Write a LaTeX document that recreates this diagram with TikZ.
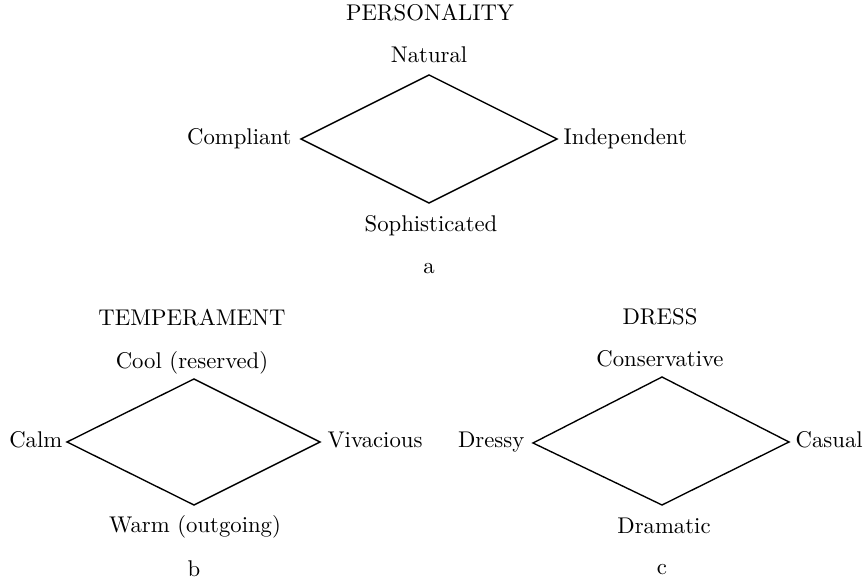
\documentclass[tikz,border=0pt]{standalone}
\usepackage{tikz}
\usetikzlibrary{positioning}
\tikzstyle{every node}=[inner sep=0pt,anchor=base]
\tikzstyle{every path}=[line width=0.6pt,line cap=round,line join=miter]
\tikzstyle{leftlbl}=[anchor=base east]
\tikzstyle{rightlbl}=[anchor=base west]

\begin{document}
\begin{tikzpicture}[x=0.44pt,y=-0.44pt]
\useasboundingbox (0,0) rectangle (866,582);

% personality (a)
\coordinate (pN) at (429,75);
\coordinate (pE) at (557,139);
\coordinate (pS) at (429,203);
\coordinate (pW) at (301,139);
\draw (pN) -- (pE) -- (pS) -- (pW) -- cycle;
\node (pers) at (430,21) {PERSONALITY};
\node (nat) at (429,63) {Natural};
\node [leftlbl] (comp) at (292,145) {Compliant};
\node [rightlbl] (indep) at (563,145) {Independent};
\node (soph) at (431,232) {Sophisticated};
\node (capa) at (429,274) {a};

% temperament (b)
\coordinate (tN) at (194,379);
\coordinate (tE) at (320,442);
\coordinate (tS) at (194,505);
\coordinate (tW) at (67,442);
\draw (tN) -- (tE) -- (tS) -- (tW) -- cycle;
\node (temp) at (192,326) {TEMPERAMENT};
\node (cool) at (192,369) {Cool (reserved)};
\node [leftlbl] (calm) at (63,448) {Calm};
\node [rightlbl] (viva) at (327,448) {Vivacious};
\node (warm) at (195,533) {Warm (outgoing)};
\node (capb) at (194,577) {b};

% dress (c)
\coordinate (dN) at (662,377);
\coordinate (dE) at (789,442);
\coordinate (dS) at (662,505);
\coordinate (dW) at (533,443);
\draw (dN) -- (dE) -- (dS) -- (dW) -- cycle;
\node (dress) at (660,325) {DRESS};
\node (cons) at (660,367) {Conservative};
\node [leftlbl] (dressy) at (525,448) {Dressy};
\node [rightlbl] (casual) at (795,448) {Casual};
\node (drama) at (664,534) {Dramatic};
\node (capc) at (662,575) {c};
\end{tikzpicture}
\end{document}
